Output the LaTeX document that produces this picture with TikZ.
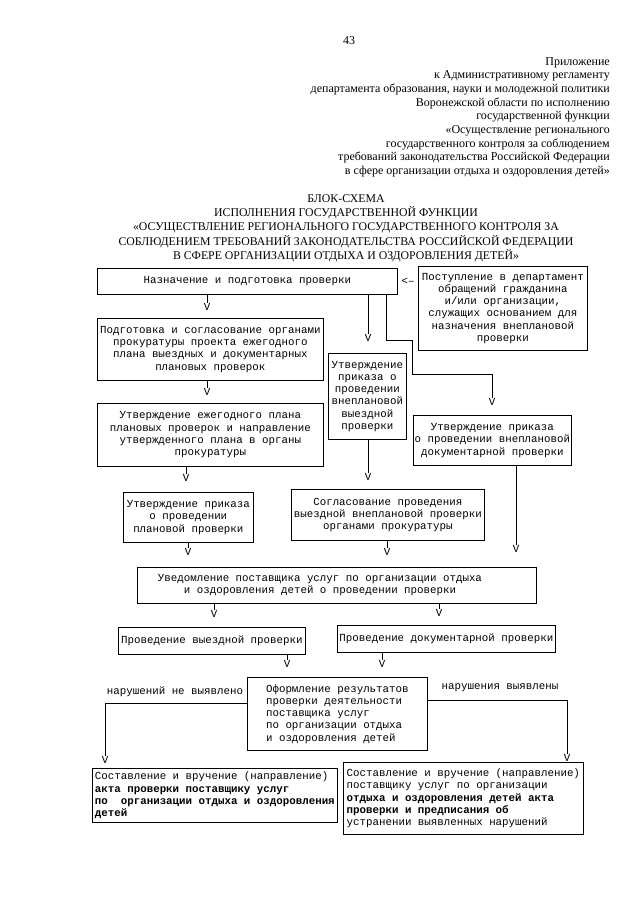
\documentclass[tikz,border=0pt]{standalone}
\usepackage{fontspec}
\setmainfont{Liberation Serif}
\newfontfamily\mono{Liberation Mono}
\begin{document}
\begin{tikzpicture}[x=1pt,y=-1pt,
  box/.style={draw, line width=0.7pt, font=\mono\fontsize{10.8}{12.3}\selectfont, align=center, inner sep=1pt, anchor=north west},
  txt/.style={font=\mono\fontsize{10.8}{12.3}\selectfont, inner sep=0pt},
  vtip/.style={font=\mono\fontsize{10.8}{12}\selectfont, inner sep=0pt},
  conn/.style={line width=0.7pt},
  head/.style={font=\fontsize{12}{13.7}\selectfont, inner sep=0pt}]
\useasboundingbox (0,0) rectangle (640,905);
\fill[white] (0,0) rectangle (640,905);

\node[head] (pg) at (349,41) {43};
\node[head, align=right, anchor=north east] (hdr) at (610,57) {Приложение\\
к Административному регламенту\\
департамента образования, науки и молодежной политики\\
Воронежской области по исполнению\\
государственной функции\\
«Осуществление регионального\\
государственного контроля за соблюдением\\
требований законодательства Российской Федерации\\
в сфере организации отдыха и оздоровления детей»};

\node[font=\fontsize{11.8}{14.4}\selectfont, align=center, inner sep=0pt, anchor=north] (ttl) at (346,194) {БЛОК-СХЕМА\\
ИСПОЛНЕНИЯ ГОСУДАРСТВЕННОЙ ФУНКЦИИ\\
«ОСУЩЕСТВЛЕНИЕ РЕГИОНАЛЬНОГО ГОСУДАРСТВЕННОГО КОНТРОЛЯ ЗА\\
СОБЛЮДЕНИЕМ ТРЕБОВАНИЙ ЗАКОНОДАТЕЛЬСТВА РОССИЙСКОЙ ФЕДЕРАЦИИ\\
В СФЕРЕ ОРГАНИЗАЦИИ ОТДЫХА И ОЗДОРОВЛЕНИЯ ДЕТЕЙ»};

% boxes
\node[box, minimum width=300, minimum height=26] (b1) at (97,268) {Назначение и подготовка проверки};
\node[box, minimum width=169, minimum height=84] (b2) at (418,266) {Поступление в департамент\\обращений гражданина\\и/или организации,\\служащих основанием для\\назначения внеплановой\\проверки};
\node[txt] (ar) at (408,281) {<–};
\node[box, minimum width=226, minimum height=62] (b3) at (97,318) {Подготовка и согласование органами\\прокуратуры проекта ежегодного\\плана выездных и документарных\\плановых проверок};
\node[box, minimum width=78, minimum height=86] (b4) at (328,353) {Утверждение\\приказа о\\проведении\\внеплановой\\выездной\\проверки};
\node[box, minimum width=226, minimum height=63] (b5) at (97,403) {Утверждение ежегодного плана\\плановых проверок и направление\\утвержденного плана в органы\\прокуратуры};
\node[box, minimum width=158, minimum height=50] (b6) at (413,415) {Утверждение приказа\\о проведении внеплановой\\документарной проверки};
\node[box, minimum width=130, minimum height=50] (b7) at (123,492) {Утверждение приказа\\о проведении\\плановой проверки};
\node[box, minimum width=193, minimum height=51] (b8) at (291,489) {Согласование проведения\\выездной внеплановой проверки\\органами прокуратуры};
\node[box, minimum width=399, minimum height=36] (b9) at (137,567) {};
\node[txt, align=center] (t9) at (320,585) {Уведомление поставщика услуг по организации отдыха\\и оздоровления детей о проведении проверки};
\node[box, minimum width=187, minimum height=27] (b10) at (118,627) {Проведение выездной проверки};
\node[box, minimum width=218, minimum height=27] (b11) at (337,625) {Проведение документарной проверки};
\node[box, minimum width=180, minimum height=73, align=left] (b12) at (247,677) {Оформление результатов\\ проверки деятельности\\ поставщика услуг\\ по организации отдыха\\ и оздоровления детей};
\node[box, minimum width=245, minimum height=54, align=left] (b13) at (92,768) {Составление и вручение (направление)\\\textbf{акта проверки поставщику услуг}\\\textbf{по\ \ организации отдыха и оздоровления}\\\textbf{детей}};
\node[box, minimum width=240, minimum height=72, align=left] (b14) at (343,762) {Составление и вручение (направление)\\поставщику услуг по организации\\\textbf{отдыха и оздоровления детей акта}\\\textbf{проверки и предписания об}\\устранении выявленных нарушений};

% labels
\node[txt] (l1) at (175,692) {нарушений не выявлено};
\node[txt] (l2) at (500,688) {нарушения выявлены};

% V tips
\node[vtip] (v1) at (207,307) {V};
\node[vtip] (v2) at (368,338) {V};
\node[vtip] (v3) at (492,402) {V};
\node[vtip] (v4) at (207,392) {V};
\node[vtip] (v5) at (186,478) {V};
\node[vtip] (v6) at (368,477) {V};
\node[vtip] (v7) at (188,552) {V};
\node[vtip] (v8) at (387,552) {V};
\node[vtip] (v9) at (516,549) {V};
\node[vtip] (v10) at (214,614) {V};
\node[vtip] (v11) at (439,613) {V};
\node[vtip] (v12) at (287,664) {V};
\node[vtip] (v13) at (382,664) {V};
\node[vtip] (v14) at (105,760) {V};
\node[vtip] (v15) at (567,758) {V};

\coordinate (k1) at (386,340);
\coordinate (k2) at (412,374);
\coordinate (k3) at (105,703);
\coordinate (k4) at (567,700);

% connectors
\draw[conn] (b1.south -| v1) -- (v1.north);
\draw[conn] (b1.south -| v2) -- (v2.north);
\draw[conn] (b1.south -| k1) -- (k1) -- (k1 -| k2) -- (k2) -- (k2 -| v3) -- (v3.north);
\draw[conn] (b3.south -| v4) -- (v4.north);
\draw[conn] (b5.south -| v5) -- (v5.north);
\draw[conn] (b4.south -| v6) -- (v6.north);
\draw[conn] (b7.south -| v7) -- (v7.north);
\draw[conn] (b8.south -| v8) -- (v8.north);
\draw[conn] (b6.south -| v9) -- (v9.north);
\draw[conn] (b9.south -| v10) -- (v10.north);
\draw[conn] (b9.south -| v11) -- (v11.north);
\draw[conn] (b10.south -| v12) -- (v12.north);
\draw[conn] (b11.south -| v13) -- (v13.north);
\draw[conn] (b12.west |- k3) -- (k3) -- (v14.north);
\draw[conn] (b12.east |- k4) -- (k4) -- (v15.north);
\end{tikzpicture}
\end{document}
